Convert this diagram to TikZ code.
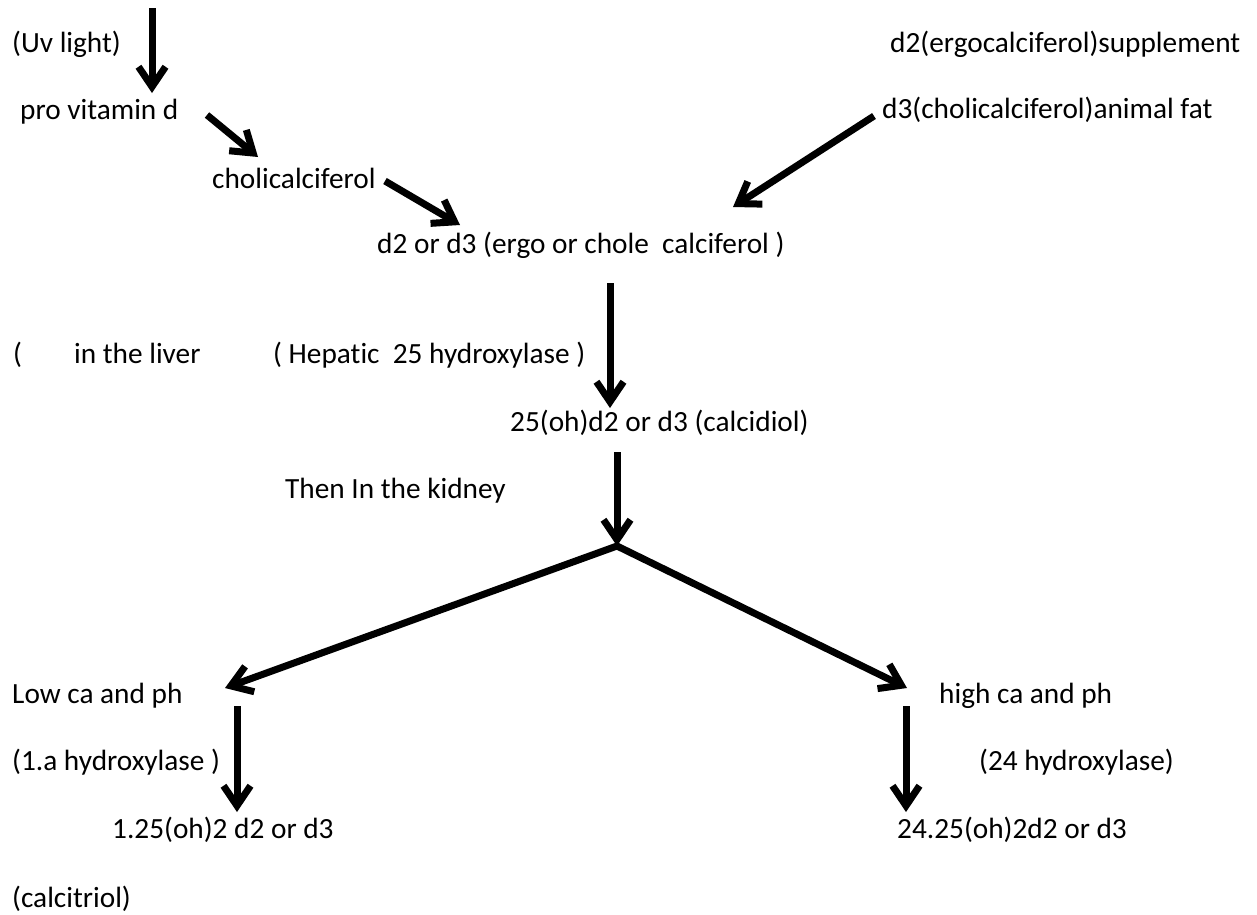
\documentclass[tikz,border=0pt]{standalone}
\usepackage{fontspec}
\setmainfont{Carlito}[Ligatures=NoCommon]
\usetikzlibrary{arrows.meta}

\begin{document}
\begin{tikzpicture}[
  x=1pt,
  y=-1pt,
  line join=miter,
  stage/.style={anchor=west,inner sep=0pt,text height=21pt,text depth=7pt,font=\fontsize{29.3}{35}\selectfont},
  flow/.style={draw=black,line width=7pt,-{Straight Barb[length=20pt,width=27pt]}},
  fork/.style={draw=black,line width=7pt,{Straight Barb[length=20pt,width=27pt]}-{Straight Barb[length=20pt,width=27pt]}}
]
  \useasboundingbox (0,0) rectangle (1257,914);

  % Sunlight route on the left, food sources on the right.
  \node[stage] (uvlight) at (12,45) {(Uv light)};
  \node[stage] (provit) at (20,112) {pro vitamin d};
  \node[stage] (cholical) at (212,181) {cholicalciferol};
  \node[stage] (supplement) at (890,45) {d2(ergocalciferol)supplement};
  \node[stage] (animalfat) at (882,111) {d3(cholicalciferol)animal fat};
  \node[stage] (calciferol) at (377,246) {d2 or d3 (ergo or chole\ \ calciferol )};

  % Liver step.
  \node[stage] (liverparen) at (13,356) {(};
  \node[stage] (liver) at (74,356) {in the liver};
  \node[stage] (hepatic) at (273,356) {( Hepatic\ \ 25 hydroxylase )};
  \node[stage] (calcidiol) at (510,424) {25(oh)d2 or d3 (calcidiol)};

  % Kidney step and the two branches.
  \node[stage] (kidney) at (285,491) {Then In the kidney};
  \node[stage] (lowca) at (12,696) {Low ca and ph};
  \node[stage] (highca) at (939,696) {high ca and ph};
  \node[stage] (onealpha) at (12,763) {(1.a hydroxylase )};
  \node[stage] (twentyfour) at (979,763) {(24 hydroxylase)};
  \node[stage] (calcitriol) at (112,831) {1.25(oh)2 d2 or d3};
  \node[stage] (inactive) at (897,831) {24.25(oh)2d2 or d3};
  \node[stage] (calcitriolname) at (12,900) {(calcitriol)};

  % Arrow ends.
  \coordinate (uvtop) at (152,8);
  \coordinate (uvtip) at (152,93);
  \coordinate (provitout) at (207,115);
  \coordinate (cholicalin) at (258,157);
  \coordinate (cholicalout) at (385,181);
  \coordinate (calcifin) at (460,225);
  \coordinate (fatout) at (874,116);
  \coordinate (calcifright) at (733,207);
  \coordinate (calcifout) at (610,283);
  \coordinate (calcidiolin) at (610,408);
  \coordinate (calcidiolout) at (617,452);
  \coordinate (apex) at (617,546);
  \coordinate (lowtip) at (225,688);
  \coordinate (hightip) at (907,688);
  \coordinate (lowout) at (237,706);
  \coordinate (lowin) at (237,812);
  \coordinate (highout) at (906,706);
  \coordinate (highin) at (906,812);

  \draw[flow] (uvtop) -- (uvtip);
  \draw[flow] (provitout) -- (cholicalin);
  \draw[flow] (cholicalout) -- (calcifin);
  \draw[flow] (fatout) -- (calcifright);
  \draw[flow] (calcifout) -- (calcidiolin);
  \draw[flow] (calcidiolout) -- (apex);
  \draw[fork] (lowtip) -- (apex) -- (hightip);
  \draw[flow] (lowout) -- (lowin);
  \draw[flow] (highout) -- (highin);
\end{tikzpicture}
\end{document}
